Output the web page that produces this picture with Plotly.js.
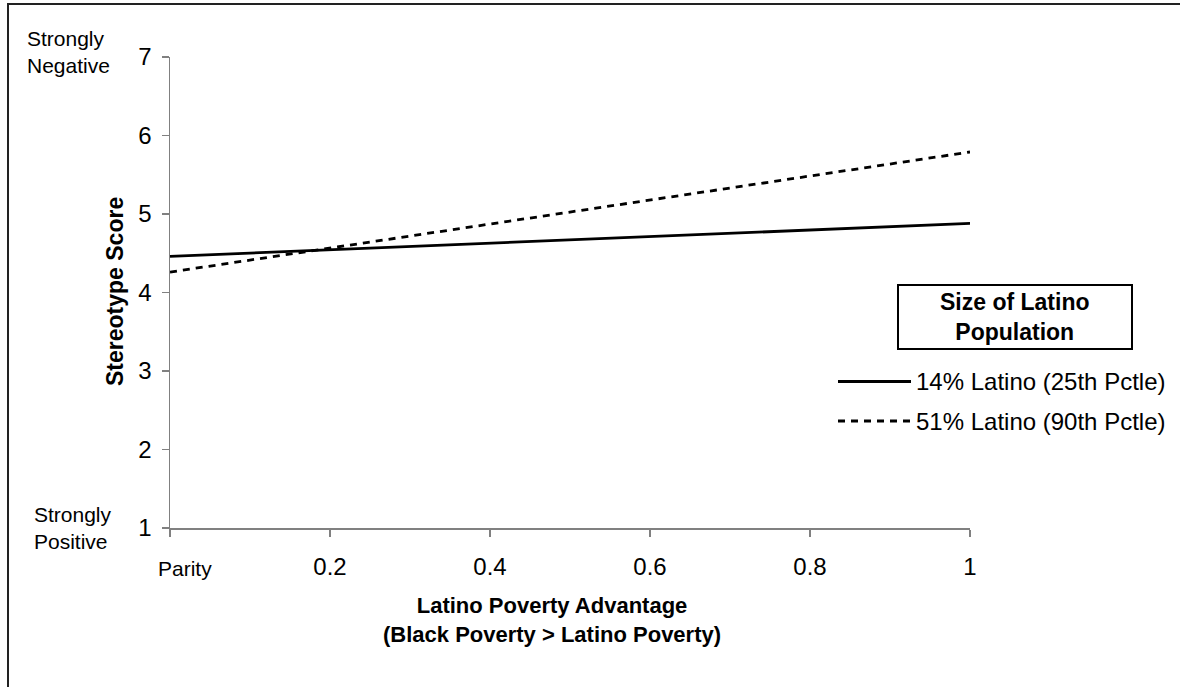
<!DOCTYPE html>
<html>
<head>
<meta charset="utf-8">
<script src="https://cdn.plot.ly/plotly-3.0.1.min.js"></script>
<style>
  html, body { margin: 0; padding: 0; background: #ffffff; }
  #chart { width: 1180px; height: 687px; }
</style>
</head>
<body>
<div id="chart"></div>
<script>
// ---- data ----
const povertyAdvantage = [0, 1];
const latino14 = [4.46, 4.88];
const latino51 = [4.26, 5.79];
const seriesNames = ['14% Latino (25th Pctle)', '51% Latino (90th Pctle)'];
const xTickVals = [0, 0.2, 0.4, 0.6, 0.8, 1];
const xTickText = ['', '0.2', '0.4', '0.6', '0.8', '1'];
const yTickVals = [1, 2, 3, 4, 5, 6, 7];
const legendTitle = 'Size of Latino<br>Population';
const xTitle = 'Latino Poverty Advantage<br>(Black Poverty > Latino Poverty)';
const yTitle = 'Stereotype Score';
const zeroLabel = 'Parity';
const topLabel = 'Strongly<br>Negative';
const bottomLabel = 'Strongly<br>Positive';

const FONT = 'Liberation Sans, Arial, sans-serif';

// plot area: x 170..970 px, y 57..528 px
const L = 170, T = 57, W = 800, H = 471;
const px = v => (v - L) / W;
const py = v => (T + H - v) / H;

const traces = [
  { x: povertyAdvantage, y: latino14, name: seriesNames[0], mode: 'lines',
    line: { color: '#000000', width: 2.8 }, showlegend: false },
  { x: povertyAdvantage, y: latino51, name: seriesNames[1], mode: 'lines',
    line: { color: '#000000', width: 2.8, dash: '7px,6px' }, showlegend: false }
];

const axisCommon = {
  showline: true, linecolor: '#808080', linewidth: 1.5,
  ticks: 'outside', ticklen: 7, tickcolor: '#808080', tickwidth: 1.5,
  showgrid: false, zeroline: false,
  tickfont: { family: FONT, size: 24, color: '#000000' }
};

const layout = {
  width: 1180, height: 687,
  margin: { l: L, r: 1180 - L - W, t: T, b: 687 - T - H },
  paper_bgcolor: '#ffffff', plot_bgcolor: '#ffffff',
  showlegend: false,
  xaxis: Object.assign({}, axisCommon, {
    range: [0, 1], tickvals: xTickVals, ticktext: xTickText, ticklabelstandoff: 10
  }),
  yaxis: Object.assign({}, axisCommon, {
    range: [1, 7], tickvals: yTickVals, ticktext: yTickVals.map(String), ticklabelstandoff: 5
  }),
  shapes: [
    // outer frame
    { type: 'rect', xref: 'paper', yref: 'paper',
      x0: px(8), x1: px(1200), y0: py(710), y1: py(4),
      line: { color: '#222222', width: 2 } },
    // legend title box
    { type: 'rect', xref: 'paper', yref: 'paper',
      x0: px(898), x1: px(1132), y0: py(349), y1: py(285),
      line: { color: '#000000', width: 2 }, fillcolor: '#ffffff' },
    // legend samples
    { type: 'line', xref: 'paper', yref: 'paper',
      x0: px(838), x1: px(911), y0: py(381.5), y1: py(381.5),
      line: { color: '#000000', width: 2.8 } },
    { type: 'line', xref: 'paper', yref: 'paper',
      x0: px(838), x1: px(911), y0: py(421), y1: py(421),
      line: { color: '#000000', width: 2.8, dash: '7px,6px' } }
  ],
  annotations: [
    { text: legendTitle, xref: 'paper', yref: 'paper', x: px(1015), y: py(317),
      xanchor: 'center', yanchor: 'middle', showarrow: false,
      font: { family: FONT, size: 23, color: '#000000', weight: 'bold' } },
    { text: seriesNames[0], xref: 'paper', yref: 'paper', x: px(914), y: py(381.5),
      xanchor: 'left', yanchor: 'middle', showarrow: false,
      font: { family: FONT, size: 24, color: '#000000' } },
    { text: seriesNames[1], xref: 'paper', yref: 'paper', x: px(914), y: py(421),
      xanchor: 'left', yanchor: 'middle', showarrow: false,
      font: { family: FONT, size: 24, color: '#000000' } },
    { text: xTitle, xref: 'paper', yref: 'paper', x: px(552), y: py(620),
      xanchor: 'center', yanchor: 'middle', showarrow: false,
      font: { family: FONT, size: 22, color: '#000000', weight: 'bold' } },
    { text: yTitle, xref: 'paper', yref: 'paper', x: px(115), y: py(292),
      xanchor: 'center', yanchor: 'middle', showarrow: false, textangle: -90,
      font: { family: FONT, size: 23, color: '#000000', weight: 'bold' } },
    { text: zeroLabel, xref: 'paper', yref: 'paper', x: px(185), y: py(568),
      xanchor: 'center', yanchor: 'middle', showarrow: false,
      font: { family: FONT, size: 21, color: '#000000' } },
    { text: topLabel, xref: 'paper', yref: 'paper', x: px(25), y: py(52.5),
      xanchor: 'left', yanchor: 'middle', align: 'left', showarrow: false,
      font: { family: FONT, size: 21, color: '#000000' } },
    { text: bottomLabel, xref: 'paper', yref: 'paper', x: px(32), y: py(528),
      xanchor: 'left', yanchor: 'middle', align: 'left', showarrow: false,
      font: { family: FONT, size: 21, color: '#000000' } }
  ]
};

Plotly.newPlot('chart', traces, layout, { staticPlot: true, displayModeBar: false });
</script>
</body>
</html>
